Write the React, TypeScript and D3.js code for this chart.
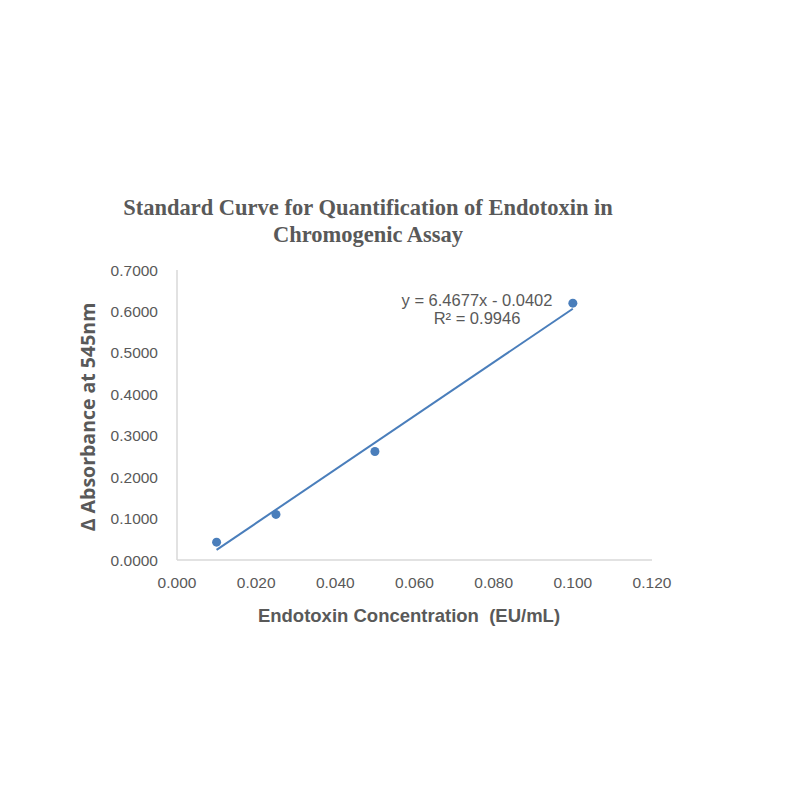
import React, { useRef, useEffect } from "react";
import * as d3 from "d3";

// concentration (EU/mL) vs delta absorbance
const concentrations = [0.01, 0.025, 0.05, 0.1];
const absorbances = [0.043, 0.11, 0.262, 0.62];

const xTicks = [0, 0.02, 0.04, 0.06, 0.08, 0.1, 0.12];
const yTicks = [0, 0.1, 0.2, 0.3, 0.4, 0.5, 0.6, 0.7];

const slope = 6.4677;
const intercept = -0.0402;
const rSquared = 0.9946;

const titleLines = [
  "Standard Curve for Quantification of Endotoxin in",
  "Chromogenic Assay",
];

const App: React.FC = () => {
  const ref = useRef<SVGSVGElement | null>(null);

  useEffect(() => {
    if (!ref.current) return;
    const svg = d3.select(ref.current);
    svg.selectAll("*").remove();

    const left = 177;
    const right = 652;
    const top = 270;
    const bottom = 560;

    const x = d3.scaleLinear().domain([0, 0.12]).range([left, right]);
    const y = d3.scaleLinear().domain([0, 0.7]).range([bottom, top]);

    const grey = "#595959";
    const blue = "#4a7ebb";
    const sans = "'Liberation Sans', Arial, sans-serif";

    svg
      .append("rect")
      .attr("width", 800)
      .attr("height", 800)
      .attr("fill", "#fff");

    // title
    svg
      .append("g")
      .selectAll("text")
      .data(titleLines)
      .enter()
      .append("text")
      .attr("x", 368)
      .attr("y", (_, i) => 215 + i * 27)
      .attr("text-anchor", "middle")
      .attr("font-family", "'Liberation Serif', 'Times New Roman', serif")
      .attr("font-weight", "bold")
      .attr("font-size", 22.5)
      .attr("fill", grey)
      .text((d) => d);

    // axis lines
    svg
      .append("line")
      .attr("x1", left)
      .attr("x2", left)
      .attr("y1", top)
      .attr("y2", bottom)
      .attr("stroke", "#d9d9d9")
      .attr("stroke-width", 1.5);
    svg
      .append("line")
      .attr("x1", left)
      .attr("x2", right)
      .attr("y1", bottom)
      .attr("y2", bottom)
      .attr("stroke", "#d9d9d9")
      .attr("stroke-width", 1.5);

    // tick labels
    svg
      .append("g")
      .selectAll("text")
      .data(yTicks)
      .enter()
      .append("text")
      .attr("x", left - 19)
      .attr("y", (d) => y(d) + 5.5)
      .attr("text-anchor", "end")
      .attr("font-family", sans)
      .attr("font-size", 15.5)
      .attr("fill", grey)
      .text((d) => d.toFixed(4));

    svg
      .append("g")
      .selectAll("text")
      .data(xTicks)
      .enter()
      .append("text")
      .attr("x", (d) => x(d))
      .attr("y", bottom + 28)
      .attr("text-anchor", "middle")
      .attr("font-family", sans)
      .attr("font-size", 15.5)
      .attr("fill", grey)
      .text((d) => d.toFixed(3));

    // axis titles
    svg
      .append("text")
      .attr("x", 409)
      .attr("y", 622)
      .attr("text-anchor", "middle")
      .attr("font-family", sans)
      .attr("font-weight", "bold")
      .attr("font-size", 18.5)
      .attr("fill", grey)
      .attr("xml:space", "preserve")
      .text("Endotoxin Concentration  (EU/mL)");

    svg
      .append("text")
      .attr("transform", `translate(95,${(top + bottom) / 2 + 2}) rotate(-90)`)
      .attr("text-anchor", "middle")
      .attr("font-family", "'Open Sans', 'Liberation Sans', sans-serif")
      .attr("font-weight", "bold")
      .attr("font-size", 19.5)
      .attr("fill", grey)
      .text("Δ Absorbance at 545nm");

    // trendline
    const xMin = d3.min(concentrations)!;
    const xMax = d3.max(concentrations)!;
    svg
      .append("line")
      .attr("x1", x(xMin))
      .attr("y1", y(slope * xMin + intercept))
      .attr("x2", x(xMax))
      .attr("y2", y(slope * xMax + intercept))
      .attr("stroke", blue)
      .attr("stroke-width", 2);

    // points
    svg
      .append("g")
      .selectAll("circle")
      .data(concentrations)
      .enter()
      .append("circle")
      .attr("cx", (d) => x(d))
      .attr("cy", (_, i) => y(absorbances[i]))
      .attr("r", 4.5)
      .attr("fill", blue);

    // equation label
    const eq = svg
      .append("text")
      .attr("text-anchor", "middle")
      .attr("font-family", sans)
      .attr("font-size", 16.5)
      .attr("fill", grey);
    eq.append("tspan")
      .attr("x", 477)
      .attr("y", 306)
      .text(`y = ${slope}x - ${Math.abs(intercept).toFixed(4)}`);
    eq.append("tspan")
      .attr("x", 477)
      .attr("y", 324)
      .text(`R² = ${rSquared}`);
  }, []);

  return (
    <svg
      ref={ref}
      width={800}
      height={800}
      style={{ position: "absolute", left: 0, top: 0 }}
    />
  );
};

export default App;
